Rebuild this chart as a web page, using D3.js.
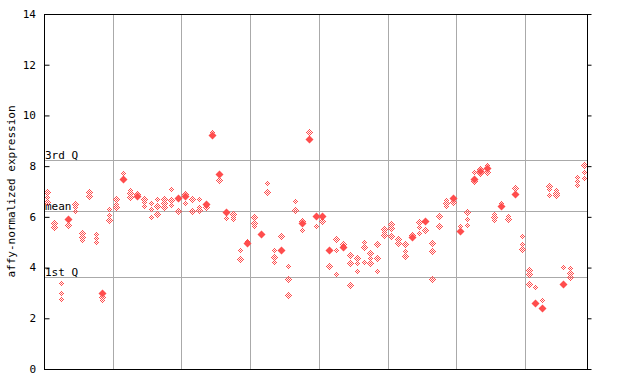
<!DOCTYPE html>
<html>
<head>
<meta charset="utf-8">
<script src="https://cdn.jsdelivr.net/npm/d3@7"></script>
<style>
  body { margin: 0; background: #fff; }
  text { font-family: "DejaVu Sans Mono", monospace; font-size: 11px; fill: #000; }
</style>
</head>
<body>
<div id="chart"></div>
<script>
// replicate values per sample (open diamonds), 79 samples in 8 groups of 10
var replicates = [
  [7.0, 6.8, 6.6], [5.77, 5.65, 5.6], [3.38, 2.98, 2.75], [5.68], [6.5, 6.38, 6.23],
  [5.35, 5.22, 5.09], [6.97, 6.82], [5.31, 5.18, 5.0], [2.85, 2.72], [6.3, 6.07, 5.87],
  [6.69, 6.5, 6.38], [7.72], [7.06, 6.93, 6.79], [6.9], [6.7, 6.57, 6.44],
  [6.53, 6.31, 5.98], [6.7, 6.44, 6.11], [6.7, 6.53, 6.4], [7.1, 6.66, 6.48], [6.23],
  [6.9, 6.53], [6.69, 6.22], [6.69, 6.38, 6.27], [6.38], [9.33],
  [7.47], [5.94], [6.1, 6.0, 5.9], [4.68, 4.33], [5.03],
  [5.98, 5.74, 5.65], [5.37], [7.33, 6.97], [4.68, 4.4, 4.21], [5.23],
  [4.05, 3.54, 2.91], [6.61, 6.26], [5.85, 5.47], [9.33], [5.63],
  [5.84], [4.05], [5.11, 4.68, 3.73], [4.92], [4.48, 4.17, 3.3],
  [4.36, 4.17, 3.85], [5.01, 4.82, 4.21], [4.56, 4.36, 4.17], [4.92, 4.36, 3.85], [5.51, 5.39, 5.27],
  [5.72, 5.55, 5.23], [5.11, 4.95], [4.92, 4.64, 4.46], [5.27], [5.78, 5.59, 5.35],
  [5.47], [4.95, 4.64, 3.54], [6.02, 5.63], [6.65, 6.53, 6.44], [6.57],
  [5.63], [6.18, 5.9, 5.67], [7.75, 7.41], [7.89, 7.74], [8.04, 7.78],
  [6.1, 5.98, 5.87], [6.55], [6.05, 5.93], [7.12], [5.23, 4.92, 4.73],
  [3.89, 3.73, 3.34], [3.22], [2.71], [7.23, 7.09, 6.85], [7.06, 6.93, 6.85],
  [4.02], [3.98, 3.77, 3.63], [7.56, 7.43, 7.24], [8.04, 7.75, 7.52]
];

// highlighted values (filled diamonds), null where none
var highlighted = [
  null, null, null, 5.9, null, null, null, null, 2.98, null,
  null, 7.49, null, 6.84, null, null, null, null, null, 6.76,
  6.83, null, null, 6.49, 9.22, 7.7, 6.2, null, null, 4.95,
  null, 5.31, null, null, 4.69, null, null, 5.76, 9.07, 6.05,
  6.05, 4.7, null, 4.82, null, null, null, null, null, null,
  null, null, null, 5.19, null, 5.85, null, null, null, 6.76,
  5.45, null, 7.5, 7.81, 7.94, null, 6.44, null, 6.91, null,
  null, 2.62, 2.42, null, null, 3.36, null, null, null
];

var groupBreaks = [9.5, 19.5, 29.5, 39.5, 49.5, 59.5, 69.5];
var refLines = [
  { label: "3rd Q", value: 8.23 },
  { label: "mean", value: 6.23 },
  { label: "1st Q", value: 3.62 }
];
var yTicks = [0, 2, 4, 6, 8, 10, 12, 14];

var W = 640, H = 384;
var plot = { left: 44, right: 587, top: 14, bottom: 369 };
var red = "#ff4d4d";

var svg = d3.select("#chart").append("svg")
  .attr("width", W).attr("height", H);

// checker pattern for open diamonds
var pat = svg.append("defs").append("pattern")
  .attr("id", "checker")
  .attr("patternUnits", "userSpaceOnUse")
  .attr("width", 2).attr("height", 2);
pat.append("rect").attr("x", 0).attr("y", 0).attr("width", 1).attr("height", 1).attr("fill", red);
pat.append("rect").attr("x", 1).attr("y", 1).attr("width", 1).attr("height", 1).attr("fill", red);

var x = d3.scaleLinear().domain([-0.5, replicates.length - 0.5]).range([plot.left, plot.right]);
var y = d3.scaleLinear().domain([0, 14]).range([plot.bottom, plot.top]);

// vertical group separators
svg.selectAll(".vgrid")
  .data(groupBreaks)
  .enter()
  .append("line")
  .attr("x1", function(d) { return Math.round(x(d)) + 0.5; })
  .attr("x2", function(d) { return Math.round(x(d)) + 0.5; })
  .attr("y1", plot.top).attr("y2", plot.bottom)
  .attr("stroke", "#aaa");

// quartile / mean lines
svg.selectAll(".hline")
  .data(refLines)
  .enter()
  .append("line")
  .attr("x1", plot.left).attr("x2", plot.right)
  .attr("y1", function(d) { return Math.round(y(d.value)) + 0.5; })
  .attr("y2", function(d) { return Math.round(y(d.value)) + 0.5; })
  .attr("stroke", "#aaa");

svg.selectAll(".hlabel")
  .data(refLines)
  .enter()
  .append("text")
  .attr("x", plot.left + 1)
  .attr("y", function(d) { return Math.round(y(d.value)) - 1; })
  .text(function(d) { return d.label; });

function diamond(cx, cy, r) {
  cx = Math.round(cx) + 0.5; cy = Math.round(cy) + 0.5;
  return "M" + cx + "," + (cy - r) + "L" + (cx + r) + "," + cy +
         "L" + cx + "," + (cy + r) + "L" + (cx - r) + "," + cy + "Z";
}

// open diamonds
var pts = [];
replicates.forEach(function(vals, i) {
  vals.forEach(function(v) { pts.push({ i: i, v: v }); });
});
svg.selectAll(".rep")
  .data(pts)
  .enter()
  .append("path")
  .attr("d", function(d) { return diamond(x(d.i), y(d.v), 3.5); })
  .attr("fill", "url(#checker)")
  .attr("shape-rendering", "crispEdges");

// filled diamonds
svg.selectAll(".hi")
  .data(highlighted.map(function(v, i) { return { i: i, v: v }; })
                   .filter(function(d) { return d.v !== null; }))
  .enter()
  .append("path")
  .attr("d", function(d) { return diamond(x(d.i), y(d.v), 4); })
  .attr("fill", red);

// frame
svg.append("rect")
  .attr("x", plot.left + 0.5).attr("y", plot.top + 0.5)
  .attr("width", plot.right - plot.left).attr("height", plot.bottom - plot.top)
  .attr("fill", "none").attr("stroke", "#000");

// left axis ticks (inward)
var yAxisL = d3.axisRight(y).tickValues(yTicks).tickSize(5).tickFormat("");
svg.append("g")
  .attr("transform", "translate(" + (plot.left + 0.5) + ",0)")
  .call(yAxisL)
  .call(function(g) { g.select(".domain").remove(); });

svg.selectAll(".ylab")
  .data(yTicks)
  .enter()
  .append("text")
  .attr("x", 36)
  .attr("y", function(d) { return y(d); })
  .attr("dy", "0.35em")
  .attr("text-anchor", "end")
  .text(function(d) { return d; });

// right axis ticks
var yAxisR = d3.axisRight(y).tickValues(yTicks).tickSize(4).tickFormat("");
svg.append("g")
  .attr("transform", "translate(" + (plot.right + 0.5) + ",0)")
  .call(yAxisR)
  .call(function(g) { g.select(".domain").remove(); });

svg.selectAll(".tick line").attr("stroke", "#000");

// y title
svg.append("text")
  .attr("transform", "translate(15," + ((plot.top + plot.bottom) / 2) + ") rotate(-90)")
  .attr("text-anchor", "middle")
  .text("affy-normalized expression");
</script>
</body>
</html>
